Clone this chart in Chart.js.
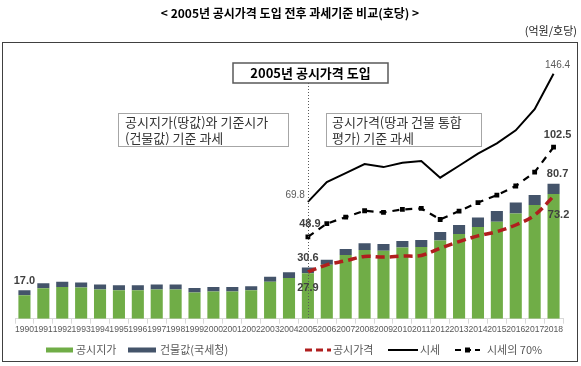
<!DOCTYPE html>
<html>
<head>
<meta charset="utf-8">
<script src="https://cdn.jsdelivr.net/npm/chart.js@4/dist/chart.umd.min.js"></script>
<style>
  html, body { margin: 0; padding: 0; background: #fff; }
  #wrap { width: 581px; height: 366px; position: relative; }
</style>
</head>
<body>
<div id="wrap"><canvas id="chart" width="581" height="366"></canvas></div>
<script>
// --- data (억원/호당) ---
const years = ['1990','1991','1992','1993','1994','1995','1996','1997','1998','1999',
  '2000','2001','2002','2003','2004','2005','2006','2007','2008','2009',
  '2010','2011','2012','2013','2014','2015','2016','2017','2018'];
const landValue = [14.0, 18.2, 19.0, 18.6, 17.4, 17.0, 17.0, 17.4, 17.4, 15.6,
  16.2, 16.2, 17.0, 22.0, 24.3, 27.2, 32.2, 38.0, 41.1, 40.6,
  42.5, 42.9, 46.7, 50.6, 54.8, 58.0, 62.9, 67.9, 74.5];
const buildingValue = [3.0, 3.0, 3.0, 3.0, 3.0, 3.0, 3.0, 3.0, 3.0, 2.8,
  2.8, 2.8, 2.4, 3.1, 3.4, 3.4, 3.0, 3.7, 4.0, 4.1,
  4.0, 4.2, 5.1, 5.4, 5.7, 6.3, 6.5, 6.1, 6.2];
const officialPrice = [null, null, null, null, null, null, null, null, null, null,
  null, null, null, null, null, 27.9, 32.2, 34.6, 37.2, 36.8,
  37.4, 37.8, 42.1, 46.1, 49.5, 52.0, 56.0, 61.9, 73.2];
const marketPrice = [null, null, null, null, null, null, null, null, null, null,
  null, null, null, null, null, 69.8, 81.7, 87.0, 92.4, 90.6,
  93.2, 94.2, 84.3, 91.4, 98.7, 104.8, 112.6, 125.2, 146.4];
const market70 = [null, null, null, null, null, null, null, null, null, null,
  null, null, null, null, null, 48.9, 56.8, 60.7, 64.5, 63.5,
  65.3, 65.9, 59.3, 64.3, 69.4, 73.8, 79.3, 87.6, 102.5];

const GREEN = '#70ad47';
const SLATE = '#44546a';
const RED = '#b01e1e';
const KR = '"Noto Sans CJK KR", "Noto Sans", sans-serif';

// 제목, 테두리, 설명 박스, 범례, 값 표시
const decorations = {
  id: 'decorations',
  beforeDraw(chart) {
    const ctx = chart.ctx;
    ctx.save();
    ctx.fillStyle = '#fff';
    ctx.fillRect(0, 0, chart.width, chart.height);
    ctx.fillStyle = '#000';
    ctx.font = 'bold 12px ' + KR;
    ctx.textAlign = 'center';
    ctx.textBaseline = 'middle';
    ctx.fillText('< 2005년 공시가격 도입 전후 과세기준 비교(호당) >', 290, 13);
    ctx.font = '11px ' + KR;
    ctx.textAlign = 'right';
    ctx.fillStyle = '#222';
    ctx.fillText('(억원/호당)', 577, 31);
    ctx.strokeStyle = '#404040';
    ctx.lineWidth = 1;
    ctx.strokeRect(2.5, 42.5, 575, 319);
    ctx.restore();
  },
  afterDatasetsDraw(chart) {
    const ctx = chart.ctx;
    const x = chart.scales.x, y = chart.scales.y;
    const i05 = years.indexOf('2005');
    const last = years.length - 1;
    const x05 = x.getPixelForValue(i05);
    ctx.save();

    // 2005 기준선
    ctx.strokeStyle = '#595959';
    ctx.lineWidth = 1;
    ctx.setLineDash([1, 2]);
    ctx.beginPath();
    ctx.moveTo(Math.round(x05) + 0.5, 83);
    ctx.lineTo(Math.round(x05) + 0.5, chart.chartArea.bottom);
    ctx.stroke();
    ctx.setLineDash([]);

    // 설명 박스
    ctx.fillStyle = '#fff';
    ctx.strokeStyle = '#595959';
    ctx.lineWidth = 1.5;
    ctx.fillRect(233, 63, 155, 20);
    ctx.strokeRect(233, 63, 155, 20);
    ctx.lineWidth = 1;
    ctx.strokeStyle = '#a6a6a6';
    ctx.fillRect(118.5, 113.5, 170, 33);
    ctx.strokeRect(118.5, 113.5, 170, 33);
    ctx.fillRect(326.5, 113.5, 155, 33);
    ctx.strokeRect(326.5, 113.5, 155, 33);

    ctx.fillStyle = '#000';
    ctx.textAlign = 'center';
    ctx.textBaseline = 'middle';
    ctx.font = 'bold 13px ' + KR;
    ctx.fillText('2005년 공시가격 도입', 310.5, 73);
    ctx.fillStyle = '#333';
    ctx.font = '13px ' + KR;
    ctx.textAlign = 'left';
    ctx.fillText('공시지가(땅값)와 기준시가', 125, 122);
    ctx.fillText('(건물값) 기준 과세', 125, 138);
    ctx.fillText('공시가격(땅과 건물 통합', 332, 122);
    ctx.fillText('평가) 기준 과세', 332, 138);

    // 값 표시
    const totalAt = i => landValue[i] + buildingValue[i];
    ctx.textAlign = 'center';
    ctx.fillStyle = '#404040';
    ctx.font = 'bold 11px "Liberation Sans", Arial, sans-serif';
    ctx.fillText(totalAt(0).toFixed(1), x.getPixelForValue(0), y.getPixelForValue(totalAt(0)) - 9);
    ctx.fillText(totalAt(i05).toFixed(1), x05, y.getPixelForValue(totalAt(i05)) - 10);
    ctx.fillText(officialPrice[i05].toFixed(1), x05, y.getPixelForValue(officialPrice[i05]) + 16);
    ctx.fillText(market70[i05].toFixed(1), x05 + 2, y.getPixelForValue(market70[i05]) - 13);
    const xl = x.getPixelForValue(last) + 4;
    ctx.fillText(market70[last].toFixed(1), xl, y.getPixelForValue(market70[last]) - 12);
    ctx.fillText(totalAt(last).toFixed(1), xl, y.getPixelForValue(totalAt(last)) - 10);
    ctx.fillText(officialPrice[last].toFixed(1), xl + 1, y.getPixelForValue(officialPrice[last]) + 19);
    ctx.fillStyle = '#595959';
    ctx.font = '10px "Liberation Sans", Arial, sans-serif';
    ctx.textAlign = 'right';
    ctx.fillText(marketPrice[i05].toFixed(1), x05 - 3, y.getPixelForValue(marketPrice[i05]) - 7);
    ctx.textAlign = 'center';
    ctx.fillText(marketPrice[last].toFixed(1), xl, y.getPixelForValue(marketPrice[last]) - 9);

    // 범례
    const ly = 350;
    ctx.font = '11px ' + KR;
    ctx.textAlign = 'left';
    ctx.fillStyle = GREEN;
    ctx.fillRect(46, ly - 2.5, 27, 5);
    ctx.fillStyle = SLATE;
    ctx.fillRect(128, ly - 2.5, 28, 5);
    ctx.fillStyle = '#595959';
    ctx.fillText('공시지가', 76, ly);
    ctx.fillText('건물값(국세청)', 160, ly);

    ctx.strokeStyle = RED;
    ctx.lineWidth = 3;
    ctx.setLineDash([7, 4]);
    ctx.beginPath(); ctx.moveTo(305, ly); ctx.lineTo(331, ly); ctx.stroke();
    ctx.setLineDash([]);
    ctx.fillText('공시가격', 333, ly);

    ctx.strokeStyle = '#000';
    ctx.lineWidth = 2;
    ctx.beginPath(); ctx.moveTo(388, ly); ctx.lineTo(418, ly); ctx.stroke();
    ctx.fillText('시세', 420, ly);

    ctx.setLineDash([6, 4]);
    ctx.beginPath(); ctx.moveTo(455, ly); ctx.lineTo(480, ly); ctx.stroke();
    ctx.setLineDash([]);
    ctx.fillStyle = '#000';
    ctx.fillRect(465, ly - 2.5, 5, 5);
    ctx.fillStyle = '#595959';
    ctx.fillText('시세의 70%', 487, ly);

    ctx.restore();
  }
};

new Chart(document.getElementById('chart'), {
  data: {
    labels: years,
    datasets: [
      { type: 'line', label: '시세', data: marketPrice, stack: 'm', order: 1,
        borderColor: '#000', borderWidth: 2, pointRadius: 0, tension: 0, spanGaps: false },
      { type: 'line', label: '시세의 70%', data: market70, stack: 'm70', order: 1,
        borderColor: '#000', borderWidth: 2.2, borderDash: [7, 6], pointStyle: 'rect',
        pointRadius: 3.4, pointBackgroundColor: '#000', pointBorderWidth: 0, tension: 0 },
      { type: 'line', label: '공시가격', data: officialPrice, stack: 'op', order: 1,
        borderColor: RED, borderWidth: 3.5, borderDash: [9, 5], pointRadius: 0, tension: 0.35 },
      { type: 'bar', label: '공시지가', data: landValue, stack: 'bar', order: 2,
        backgroundColor: GREEN, barPercentage: 0.64, categoryPercentage: 1 },
      { type: 'bar', label: '건물값(국세청)', data: buildingValue, stack: 'bar', order: 2,
        backgroundColor: SLATE, barPercentage: 0.64, categoryPercentage: 1 }
    ]
  },
  options: {
    responsive: false,
    devicePixelRatio: 1,
    animation: false,
    layout: { padding: { left: 15, right: 18, top: 51, bottom: 30 } },
    plugins: { legend: { display: false }, tooltip: { enabled: false } },
    scales: {
      x: {
        stacked: true,
        offset: true,
        grid: { display: true, drawOnChartArea: false, color: '#d9d9d9', tickLength: 5, offset: true },
        border: { color: '#d9d9d9' },
        ticks: { autoSkip: false, maxRotation: 0, minRotation: 0, padding: 1,
          color: '#595959', font: { family: '"Liberation Sans", Arial, sans-serif', size: 8.6 } }
      },
      y: { stacked: true, display: false, min: 0, max: 160 }
    }
  },
  plugins: [decorations]
});
</script>
</body>
</html>
